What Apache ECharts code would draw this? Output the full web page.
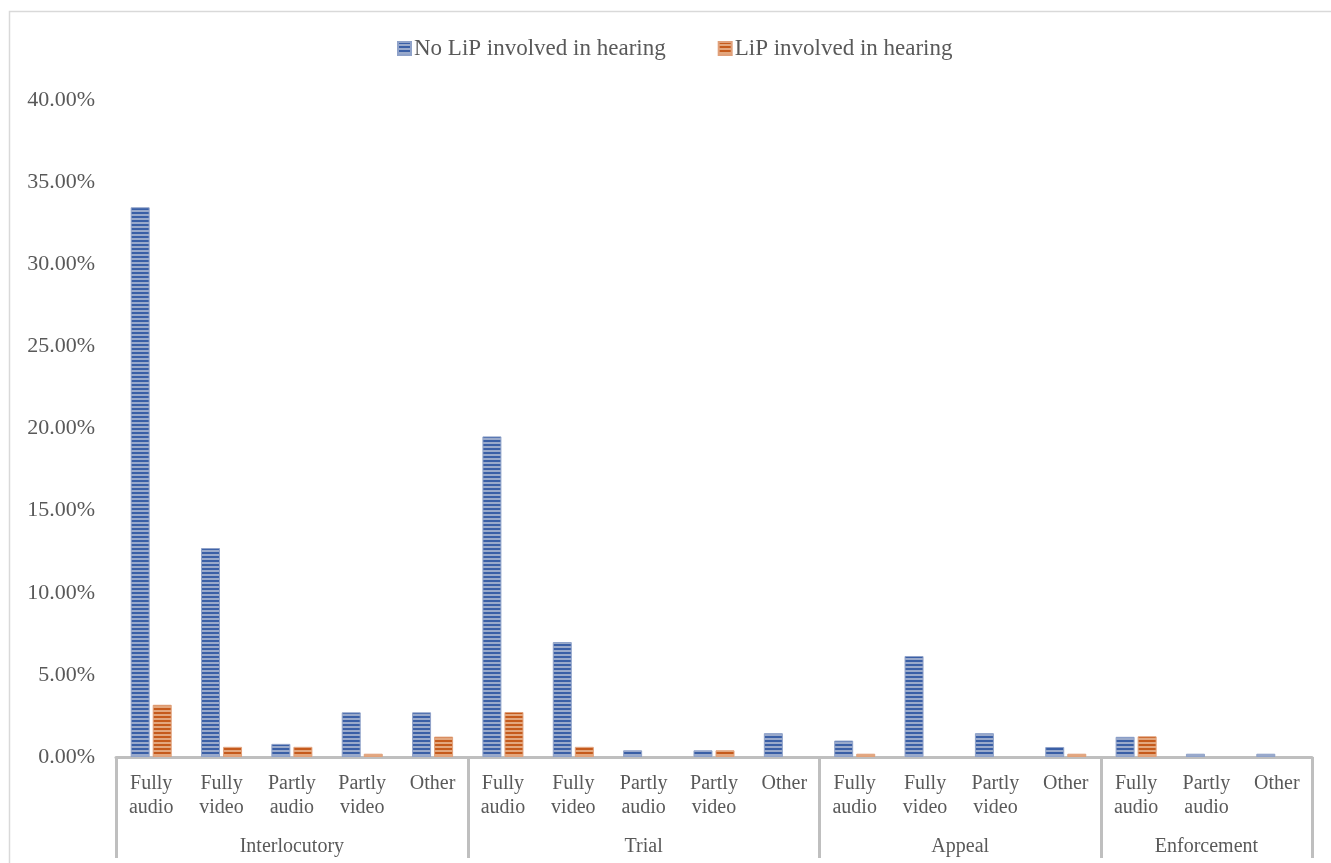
<!DOCTYPE html>
<html>
<head>
<meta charset="utf-8">
<script src="https://cdn.jsdelivr.net/npm/echarts@6/dist/echarts.min.js"></script>
<style>
html,body{margin:0;padding:0;background:#fff;}
#chart{width:1331px;height:863px;}
</style>
</head>
<body>
<div id="chart"></div>
<script>
// ---- data ----
const groups = ['Interlocutory', 'Trial', 'Appeal', 'Enforcement'];
const groupSizes = [5, 5, 4, 3];
const categories = [
  'Fully\naudio', 'Fully\nvideo', 'Partly\naudio', 'Partly\nvideo', 'Other',
  'Fully\naudio', 'Fully\nvideo', 'Partly\naudio', 'Partly\nvideo', 'Other',
  'Fully\naudio', 'Fully\nvideo', 'Partly\nvideo', 'Other',
  'Fully\naudio', 'Partly\naudio', 'Other'
];
const seriesNames = ['No LiP involved in hearing', 'LiP involved in hearing'];
const noLiP = [33.47, 12.72, 0.80, 2.72, 2.72, 19.52, 7.00, 0.41, 0.41, 1.45, 1.00, 6.15, 1.45, 0.61, 1.23, 0.20, 0.20];
const liP   = [3.18, 0.62, 0.62, 0.20, 1.24, 2.74, 0.62, 0, 0.41, 0, 0.20, 0, 0, 0.20, 1.26, 0, 0];
const yTicks = [0, 5, 10, 15, 20, 25, 30, 35, 40];

// ---- helpers ----
function stripePattern(dark, light) {
  const c = document.createElement('canvas');
  c.width = 4; c.height = 4;
  const ctx = c.getContext('2d');
  ctx.fillStyle = light; ctx.fillRect(0, 0, 4, 4);
  ctx.fillStyle = dark; ctx.fillRect(0, 0, 4, 2);
  return { image: c, repeat: 'repeat' };
}
// zero values are not drawn as bars
const nz = (arr) => arr.map(v => (v === 0 ? null : v));

// group boundaries and centers from group sizes
const boundaries = [];
const centers = {};
let acc = 0;
groupSizes.forEach((s, i) => {
  boundaries.push(acc);
  centers[(acc + s / 2).toFixed(1)] = groups[i];
  acc += s;
});
const total = acc;

const FONT = '"Liberation Serif", "Times New Roman", serif';
const TXT = '#595959';
const AXIS = '#BFBFBF';

const chart = echarts.init(document.getElementById('chart'), null, { renderer: 'canvas' });
chart.setOption({
  backgroundColor: '#ffffff',
  animation: false,
  textStyle: { fontFamily: FONT, color: TXT },
  graphic: [{
    type: 'rect', left: 7, top: 9, silent: true,
    shape: { x: 0, y: 0, width: 1360, height: 900 },
    style: { fill: 'none', stroke: '#D9D9D9', lineWidth: 1.5 }
  }],
  legend: {
    top: 32,
    left: 392,
    itemWidth: 13,
    itemHeight: 13,
    itemGap: 52,
    icon: 'rect',
    textStyle: { fontFamily: FONT, fontSize: 23, color: TXT, padding: [0, 0, 0, -2] },
    data: seriesNames
  },
  grid: { left: 116, right: 19, top: 100, bottom: 106, containLabel: false },
  xAxis: [{
    type: 'category',
    data: categories,
    position: 'bottom',
    axisLine: { lineStyle: { color: AXIS, width: 3 } },
    axisTick: {
      show: true,
      length: 101,
      interval: (idx) => boundaries.indexOf(idx) >= 0,
      lineStyle: { color: AXIS, width: 3 }
    },
    axisLabel: {
      interval: 0,
      margin: 15,
      fontFamily: FONT,
      fontSize: 20,
      lineHeight: 24,
      color: TXT
    }
  }, {
    type: 'value',
    min: 0,
    max: total,
    interval: 0.5,
    position: 'bottom',
    axisLine: { show: false },
    axisTick: { show: false },
    splitLine: { show: false },
    axisLabel: {
      margin: 80,
      fontFamily: FONT,
      fontSize: 20,
      color: TXT,
      showMinLabel: true,
      showMaxLabel: true,
      formatter: (v) => centers[Number(v).toFixed(1)] || ''
    }
  }],
  yAxis: {
    type: 'value',
    min: yTicks[0],
    max: yTicks[yTicks.length - 1],
    interval: yTicks[1] - yTicks[0],
    axisLine: { show: false },
    axisTick: { show: false },
    splitLine: { show: false },
    axisLabel: {
      margin: 21,
      fontFamily: FONT,
      fontSize: 22,
      color: TXT,
      formatter: (v) => v.toFixed(2) + '%'
    }
  },
  series: [{
    name: seriesNames[0],
    type: 'bar',
    xAxisIndex: 0,
    data: nz(noLiP),
    barWidth: 19,
    barGap: '16%',
    itemStyle: { color: stripePattern('#3A5FA6', '#9AAACB'), borderColor: '#8FA2C9', borderWidth: 1 }
  }, {
    name: seriesNames[1],
    type: 'bar',
    xAxisIndex: 0,
    data: nz(liP),
    barWidth: 19,
    itemStyle: { color: stripePattern('#C55A1C', '#E3A77E'), borderColor: '#E0A07A', borderWidth: 1 }
  }]
});
</script>
</body>
</html>
